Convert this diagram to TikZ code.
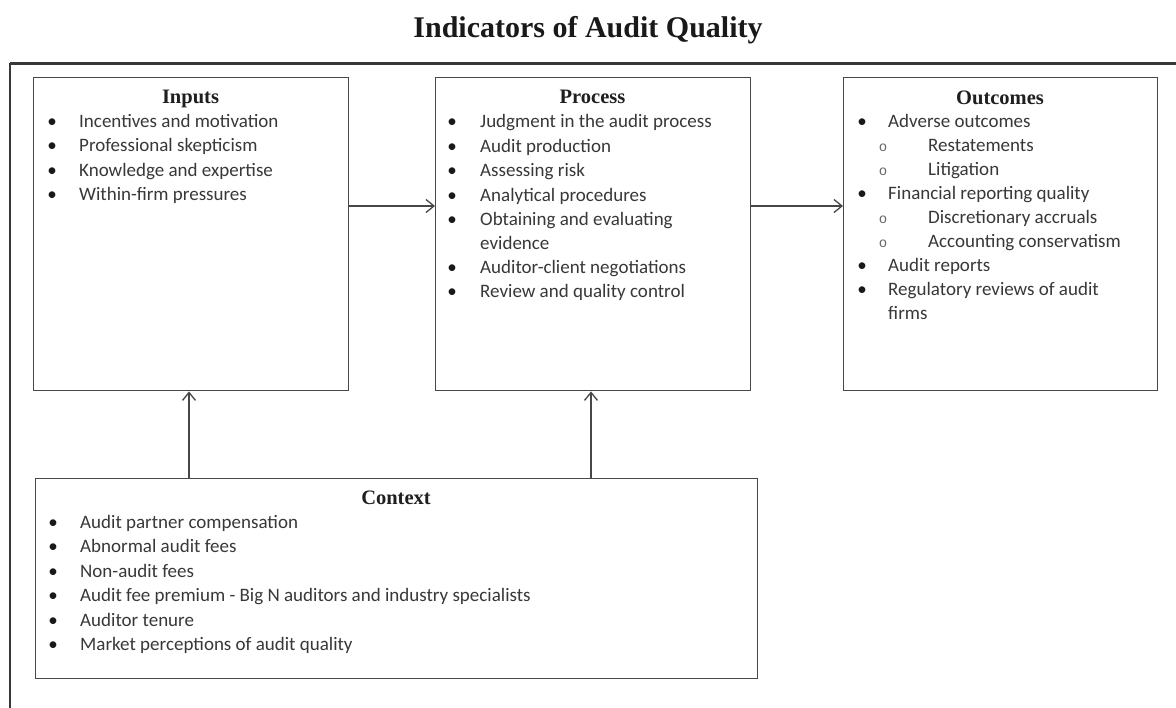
\documentclass[tikz,border=0pt]{standalone}
\usepackage{fontspec}
\setmainfont{Carlito}
\newfontfamily\headfont{Liberation Serif}
\newfontfamily\monofont{Liberation Mono}
\usetikzlibrary{arrows.meta}
\begin{document}
\begin{tikzpicture}[x=1pt,y=-1pt,
  frameline/.style={draw=black!78},
  box/.style={draw=black!72, line width=1.4pt, inner sep=0pt, anchor=north west, fill=none},
  head/.style={anchor=base, inner sep=0pt, text=black!88, font=\headfont\bfseries\fontsize{20.5}{24}\selectfont},
  item/.style={anchor=base west, inner sep=0pt, text=black!78, font=\fontsize{19}{23}\selectfont},
  bul/.style={anchor=base, inner sep=0pt, text=black!90, font=\fontsize{19}{23}\selectfont},
  sub/.style={anchor=base, inner sep=0pt, text=black!60, font=\monofont\fontsize{14}{17}\selectfont},
  arr/.style={draw=black!72, line width=1.4pt, -{Straight Barb[length=8pt,width=13pt,line width=1.3pt]}}
]
\useasboundingbox (0,0) rectangle (1176,708);
\fill[white] (0,0) rectangle (1176,708);

% title
\node[inner sep=0pt, anchor=base, text=black!90, font=\headfont\bfseries\fontsize{30}{36}\selectfont] (title) at (588,38) {Indicators of Audit Quality};

% outer frame
\draw[frameline, line width=3pt] (1176,64) -- (10,64);
\draw[frameline, line width=2pt] (10,63) -- (10,708);

% boxes
\node[box, minimum width=315pt, minimum height=313pt] (inputs) at (33,77) {};
\node[box, minimum width=315pt, minimum height=313pt] (process) at (435,77) {};
\node[box, minimum width=314pt, minimum height=313pt] (outcomes) at (843,77) {};
\node[box, minimum width=722pt, minimum height=200pt] (context) at (35,478) {};

% helper coordinates
\coordinate (rowy) at (0,206);
\coordinate (colA) at (189,0);
\coordinate (colB) at (591,0);

% connectors
\draw[arr] (inputs.east |- rowy) -- (process.west |- rowy);
\draw[arr] (process.east |- rowy) -- (outcomes.west |- rowy);
\draw[arr] (context.north -| colA) -- (inputs.south -| colA);
\draw[arr] (context.north -| colB) -- (process.south -| colB);

% Inputs
\node[head] (inh) at (190.5,104) {Inputs};
\foreach \t [count=\i] in {Incentives and motivation, Professional skepticism, Knowledge and expertise, Within-firm pressures} {
  \node[bul] (inb\i) at (52,{103+24.4*\i}) {•};
  \node[item] (in\i) at (79,{103+24.4*\i}) {\t};
}

% Process
\node[head] (prh) at (592.5,104) {Process};
\node[bul] (prb1) at (452,128) {•}; \node[item] (pr1) at (480,128) {Judgment in the audit process};
\node[bul] (prb2) at (452,152.4) {•}; \node[item] (pr2) at (480,152.4) {Audit production};
\node[bul] (prb3) at (452,176.8) {•}; \node[item] (pr3) at (480,176.8) {Assessing risk};
\node[bul] (prb4) at (452,201.2) {•}; \node[item] (pr4) at (480,201.2) {Analytical procedures};
\node[bul] (prb5) at (452,225.6) {•}; \node[item] (pr5) at (480,225.6) {Obtaining and evaluating};
\node[item] (pr5b) at (480,249.5) {evidence};
\node[bul] (prb6) at (452,274) {•}; \node[item] (pr6) at (480,274) {Auditor-client negotiations};
\node[bul] (prb7) at (452,298) {•}; \node[item] (pr7) at (480,298) {Review and quality control};

% Outcomes
\node[head] (ouh) at (1000,105) {Outcomes};
\node[bul] (oub1) at (862,128) {•}; \node[item] (ou1) at (888,128) {Adverse outcomes};
\node[sub] (ous1) at (883,152) {o}; \node[item] (ou1a) at (928,152) {Restatements};
\node[sub] (ous2) at (883,175.5) {o}; \node[item] (ou1b) at (928,175.5) {Litigation};
\node[bul] (oub2) at (862,200) {•}; \node[item] (ou2) at (888,200) {Financial reporting quality};
\node[sub] (ous3) at (883,224) {o}; \node[item] (ou2a) at (928,224) {Discretionary accruals};
\node[sub] (ous4) at (883,247.5) {o}; \node[item] (ou2b) at (928,247.5) {Accounting conservatism};
\node[bul] (oub3) at (862,271.5) {•}; \node[item] (ou3) at (888,271.5) {Audit reports};
\node[bul] (oub4) at (862,295.5) {•}; \node[item] (ou4) at (888,295.5) {Regulatory reviews of audit};
\node[item] (ou4b) at (888,319.5) {firms};

% Context
\node[head] (coh) at (396,504) {Context};
\foreach \t [count=\i] in {Audit partner compensation, Abnormal audit fees, Non-audit fees, Audit fee premium - Big N auditors and industry specialists, Auditor tenure, Market perceptions of audit quality} {
  \node[bul] (cob\i) at (53,{503.5+24.5*\i}) {•};
  \node[item] (co\i) at (80,{503.5+24.5*\i}) {\t};
}
\end{tikzpicture}
\end{document}
